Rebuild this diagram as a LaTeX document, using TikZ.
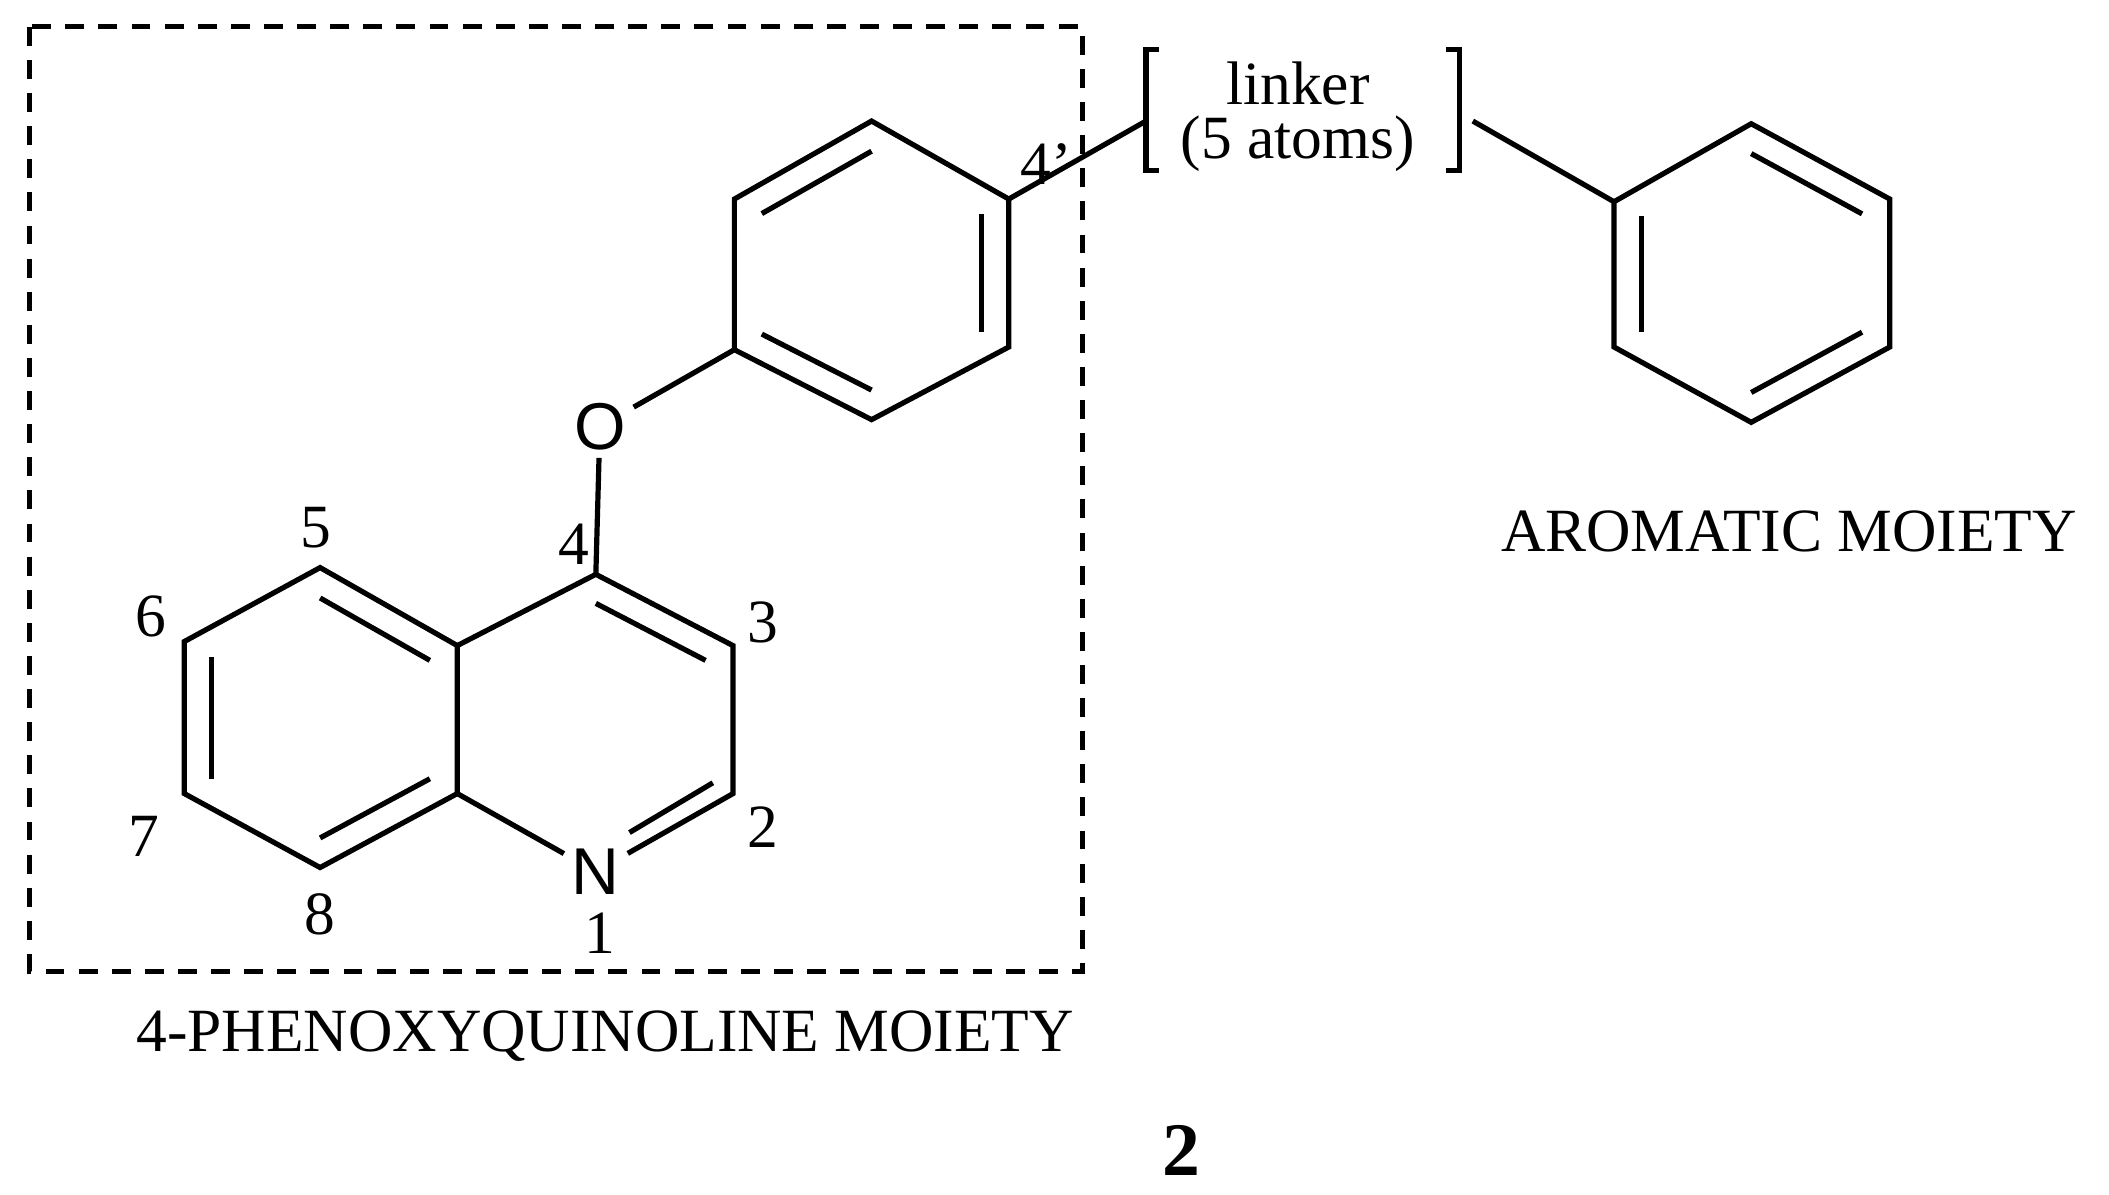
\documentclass[tikz,border=0pt]{standalone}
\usepackage{fontspec}
\setmainfont{Liberation Serif}
\newfontfamily\atomfont{Liberation Sans}
\usetikzlibrary{calc}
\begin{document}
\begin{tikzpicture}[x=0.01cm,y=-0.01cm,
  bond/.style={line width=1.1pt},
  lbl/.style={font=\fontsize{13}{14}\selectfont,inner sep=0pt},
  atom/.style={font=\atomfont\fontsize{14}{15}\selectfont,inner sep=1.5pt}]
\useasboundingbox (0,0) rectangle (1568,888);
% quinoline
\coordinate (c4) at (443,427); \coordinate (c3) at (545,480); \coordinate (c2) at (545,590);
\node[atom] (n1) at (443,648) {N};
\coordinate (c8a) at (340,590); \coordinate (c4a) at (340,480);
\coordinate (c5) at (238,422); \coordinate (c6) at (137,477); \coordinate (c7) at (137,590); \coordinate (c8) at (238,645);
\coordinate (qa) at (443,535); \coordinate (qb) at (238,535);
\coordinate (nd1) at (530,582); \coordinate (nd2) at (468,619);
\node[atom] (o) at (446,317) {O};
% phenyl 1
\coordinate (p1) at (546,260); \coordinate (p2) at (546,148); \coordinate (p3) at (648,90);
\coordinate (p4) at (750,148); \coordinate (p5) at (750,258); \coordinate (p6) at (648,312);
\coordinate (pc) at (648,202);
% phenyl 2
\coordinate (r1) at (1200,150); \coordinate (r2) at (1302,92); \coordinate (r3) at (1405,148);
\coordinate (r4) at (1405,258); \coordinate (r5) at (1302,314); \coordinate (r6) at (1200,258);
\coordinate (rc) at (1302,203);
\coordinate (lb) at (852,90); \coordinate (rb) at (1095,90);
\begin{scope}[bond]
\draw (c4)--(c3)--(c2)--(n1)--(c8a)--(c4a)--(c4);
\draw (c4a)--(c5)--(c6)--(c7)--(c8)--(c8a);
\draw ($(c4)!0.2!(qa)$)--($(c3)!0.2!(qa)$);
\draw (nd1)--(nd2);
\draw ($(c4a)!0.2!(qb)$)--($(c5)!0.2!(qb)$);
\draw ($(c6)!0.2!(qb)$)--($(c7)!0.2!(qb)$);
\draw ($(c8)!0.2!(qb)$)--($(c8a)!0.2!(qb)$);
\draw (c4)--(o)--(p1);
\draw (p1)--(p2)--(p3)--(p4)--(p5)--(p6)--cycle;
\draw ($(p2)!0.2!(pc)$)--($(p3)!0.2!(pc)$);
\draw ($(p4)!0.2!(pc)$)--($(p5)!0.2!(pc)$);
\draw ($(p6)!0.2!(pc)$)--($(p1)!0.2!(pc)$);
\draw (p4)--(lb);
\draw (862,37)--(852,37)--(852,127)--(862,127);
\draw (1075,37)--(1085,37)--(1085,127)--(1075,127);
\draw (rb)--(r1);
\draw (r1)--(r2)--(r3)--(r4)--(r5)--(r6)--cycle;
\draw ($(r2)!0.2!(rc)$)--($(r3)!0.2!(rc)$);
\draw ($(r4)!0.2!(rc)$)--($(r5)!0.2!(rc)$);
\draw ($(r6)!0.2!(rc)$)--($(r1)!0.2!(rc)$);
\end{scope}
\draw[line width=1.1pt,dash pattern=on 4pt off 3pt] (22,20) rectangle (805,722);
\node[lbl] (l5) at (235,392) {5};
\node[lbl] (l6) at (112,458) {6};
\node[lbl] (l7) at (107,622) {7};
\node[lbl] (l8) at (238,680) {8};
\node[lbl] (l1) at (446,694) {1};
\node[lbl] (l2) at (567,615) {2};
\node[lbl] (l3) at (567,463) {3};
\node[lbl] (l4) at (427,405) {4};
\node[lbl] (l4p) at (778,122) {4'};
\node[lbl] (lk) at (965,62) {linker};
\node[lbl] (lk2) at (965,107) {(5 atoms)};
\node[lbl] (arom) at (1330,395) {AROMATIC MOIETY};
\node[lbl] (phq) at (450,770) {4-PHENOXYQUINOLINE MOIETY};
\node[inner sep=0pt,font=\bfseries\fontsize{16}{17}\selectfont] (two) at (878,855) {2};
\end{tikzpicture}
\end{document}
